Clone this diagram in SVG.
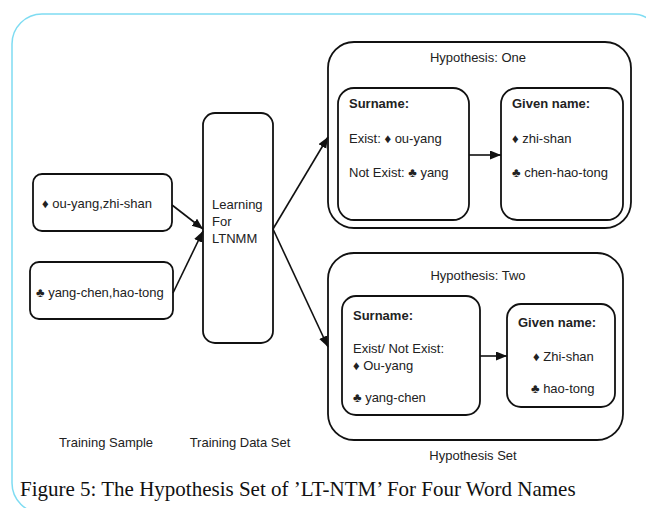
<svg xmlns="http://www.w3.org/2000/svg" width="646" height="508" viewBox="0 0 646 508">
<style>
.box{fill:#fff;stroke:#111;stroke-width:1.8}
.t{font-family:"Liberation Sans",Arial,sans-serif;font-size:13px;fill:#222}
.b{font-weight:bold}
.c{text-anchor:middle}
.conn{stroke:#111;stroke-width:1.6;fill:none}
.cap{font-family:"Liberation Serif","Times New Roman",serif;font-size:21px;fill:#111}
</style>
<defs>
<marker id="ah" markerUnits="userSpaceOnUse" markerWidth="12" markerHeight="10" refX="11" refY="4.5" orient="auto">
<path d="M0,0 L11,4.5 L0,9 z" fill="#111"/>
</marker>
</defs>
<rect width="646" height="508" fill="#fff"/>
<rect x="12" y="14" width="650" height="499" rx="30" ry="30" fill="none" stroke="#7fdcf2" stroke-width="1.5"/>

<g id="sample1">
<rect class="box" x="33" y="174" width="139" height="57" rx="9"/>
<text class="t" x="42" y="208">♦ ou-yang,zhi-shan</text>
</g>
<g id="sample2">
<rect class="box" x="30" y="262" width="143" height="57" rx="9"/>
<text class="t" x="36" y="297">♣ yang-chen,hao-tong</text>
</g>
<g id="learning">
<rect class="box" x="203" y="113" width="70" height="230" rx="12"/>
<text class="t" x="212" y="209">Learning</text>
<text class="t" x="212" y="226">For</text>
<text class="t" x="212" y="243">LTNMM</text>
</g>

<g id="hyp1">
<rect class="box" x="328" y="42" width="303" height="186" rx="26"/>
<text class="t c" x="478" y="62">Hypothesis: One</text>
</g>
<g id="hyp1-surname">
<rect class="box" x="338" y="88" width="131" height="132" rx="16"/>
<text class="t b" x="349" y="108">Surname:</text>
<text class="t" x="349" y="143">Exist: ♦ ou-yang</text>
<text class="t" x="349" y="177">Not Exist: ♣ yang</text>
</g>
<g id="hyp1-given">
<rect class="box" x="501" y="88" width="122" height="132" rx="16"/>
<text class="t b" x="512" y="108">Given name:</text>
<text class="t" x="512" y="143">♦ zhi-shan</text>
<text class="t" x="512" y="177">♣ chen-hao-tong</text>
</g>

<g id="hyp2">
<rect class="box" x="328" y="253" width="295" height="187" rx="26"/>
<text class="t c" x="478" y="280">Hypothesis: Two</text>
</g>
<g id="hyp2-surname">
<rect class="box" x="342" y="296" width="138" height="119" rx="14"/>
<text class="t b" x="353" y="320">Surname:</text>
<text class="t" x="353" y="353">Exist/ Not Exist:</text>
<text class="t" x="353" y="370">♦ Ou-yang</text>
<text class="t" x="353" y="402">♣ yang-chen</text>
</g>
<g id="hyp2-given">
<rect class="box" x="507" y="304" width="108" height="103" rx="14"/>
<text class="t b" x="518" y="327">Given name:</text>
<text class="t" x="533" y="361">♦ Zhi-shan</text>
<text class="t" x="531" y="393">♣ hao-tong</text>
</g>

<g id="connectors">
<line class="conn" x1="172" y1="205" x2="203" y2="229" marker-end="url(#ah)"/>
<line class="conn" x1="173" y1="293" x2="203" y2="231" marker-end="url(#ah)"/>
<line class="conn" x1="273" y1="229" x2="328" y2="137" marker-end="url(#ah)"/>
<line class="conn" x1="273" y1="229" x2="328" y2="347" marker-end="url(#ah)"/>
<line class="conn" x1="469" y1="155" x2="501" y2="155" marker-end="url(#ah)"/>
<line class="conn" x1="480" y1="356" x2="507" y2="356" marker-end="url(#ah)"/>
</g>

<g id="labels">
<text class="t c" x="106" y="447">Training Sample</text>
<text class="t c" x="240" y="447">Training Data Set</text>
<text class="t c" x="473" y="460">Hypothesis Set</text>
</g>
<text class="cap" x="20" y="496">Figure 5: The Hypothesis Set of ’LT-NTM’ For Four Word Names</text>
</svg>
